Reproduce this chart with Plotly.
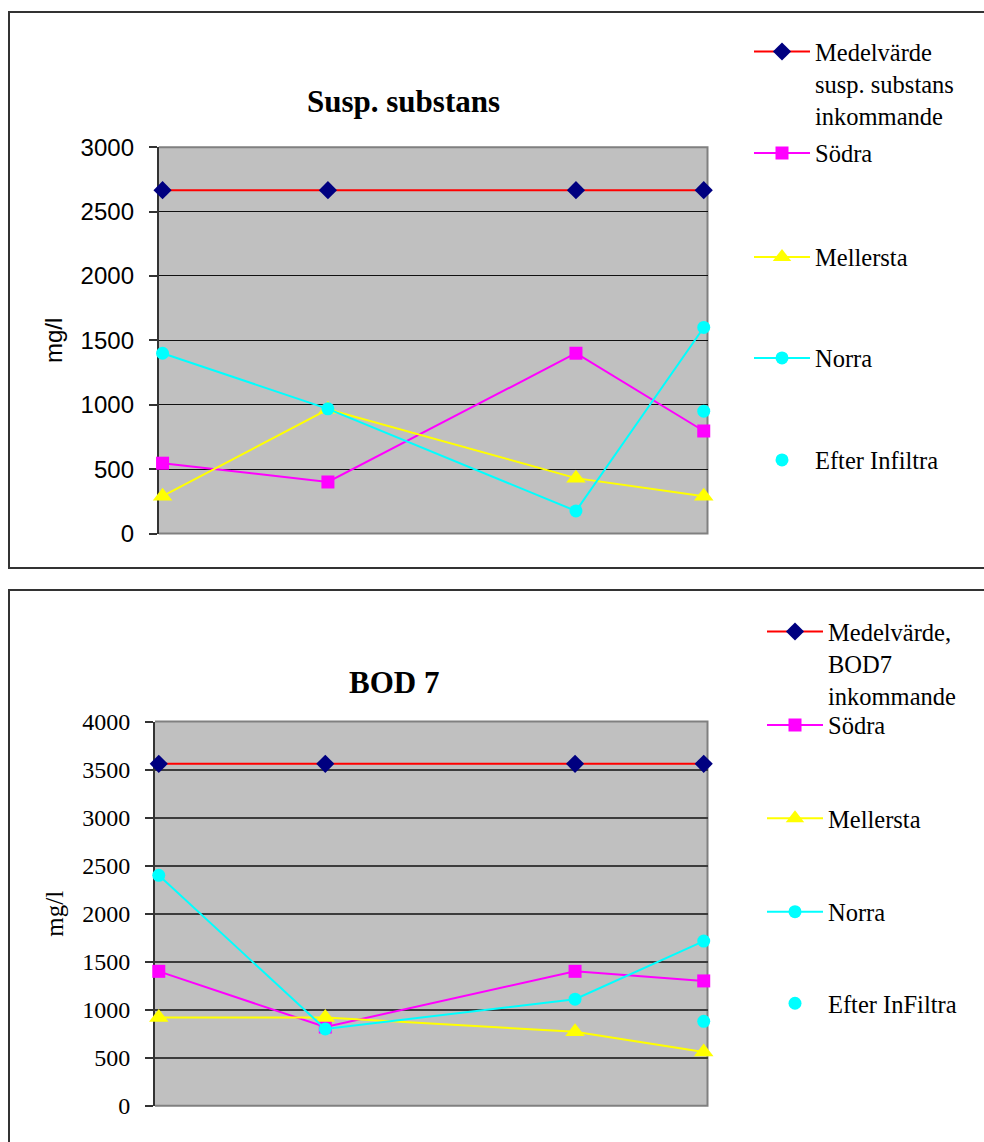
import plotly.graph_objects as go

W, H = 984, 1142

# ---------------- data ----------------
sample_day = [0, 22, 55, 72]  # relative sampling days (no x labels in the original)

ss_medel = [2666, 2666, 2666, 2666]
ss_sodra = [546, 400, 1400, 796]
ss_mellersta = [290, 965, 430, 290]
ss_norra = [1400, 968, 175, 1600]
ss_efter = [None, None, None, 950]

bod_medel = [3560, 3560, 3560, 3560]
bod_sodra = [1400, 820, 1400, 1300]
bod_mellersta = [920, 920, 770, 560]
bod_norra = [2400, 800, 1110, 1715]
bod_efter = [None, None, None, 880]

ss_names = ["Medelvärde<br>susp. substans<br>inkommande", "Södra", "Mellersta", "Norra", "Efter Infiltra"]
bod_names = ["Medelvärde,<br>BOD7<br>inkommande", "Södra", "Mellersta", "Norra", "Efter InFiltra"]

ss_ticks = [0, 500, 1000, 1500, 2000, 2500, 3000]
bod_ticks = [0, 500, 1000, 1500, 2000, 2500, 3000, 3500, 4000]

# ---------------- styles ----------------
styles = [
    dict(mode="lines+markers", line=dict(color="#FF0000", width=2),
         marker=dict(symbol="diamond", color="#000080", size=14)),
    dict(mode="lines+markers", line=dict(color="#FF00FF", width=2),
         marker=dict(symbol="square", color="#FF00FF", size=13)),
    dict(mode="lines+markers", line=dict(color="#FFFF00", width=2),
         marker=dict(symbol="triangle-up", color="#FFFF00", size=17)),
    dict(mode="lines+markers", line=dict(color="#00FFFF", width=2),
         marker=dict(symbol="circle", color="#00FFFF", size=13)),
    dict(mode="markers",
         marker=dict(symbol="circle", color="#00FFFF", size=13)),
]

fig = go.Figure()

ss_series = [ss_medel, ss_sodra, ss_mellersta, ss_norra, ss_efter]
bod_series = [bod_medel, bod_sodra, bod_mellersta, bod_norra, bod_efter]

for i, (name, vals) in enumerate(zip(ss_names, ss_series)):
    fig.add_trace(go.Scatter(x=sample_day, y=vals, name=name, xaxis="x", yaxis="y",
                             legend="legend" if i == 0 else f"legend{i+1}",
                             cliponaxis=False, **styles[i]))
for i, (name, vals) in enumerate(zip(bod_names, bod_series)):
    fig.add_trace(go.Scatter(x=sample_day, y=vals, name=name, xaxis="x2", yaxis="y2",
                             legend=f"legend{i+6}", cliponaxis=False, **styles[i]))

def px_x(v):
    return v / W

def px_y(v):
    return 1 - v / H

serif = "Liberation Serif, Times New Roman, serif"
sans = "Liberation Sans, Arial, sans-serif"

# legend positions (symbol centre y in px)
top_leg_y = [51.7, 153, 257, 358, 460]
bot_leg_y = [631.7, 725, 818.3, 911.7, 1003.3]
lfs = 24.5
lh = lfs * 1.3
legends = {}
for i in range(10):
    key = "legend" if i == 0 else f"legend{i+1}"
    if i < 5:
        ly = top_leg_y[i]
        lx = 749
    else:
        ly = bot_leg_y[i - 5]
        lx = 762
    if i in (0, 5):
        ly = ly + lh
    legends[key] = dict(x=px_x(lx), y=px_y(ly), xanchor="left", yanchor="middle",
                        bgcolor="rgba(0,0,0,0)", borderwidth=0, itemwidth=56,
                        valign="top", font=dict(family=serif, size=lfs, color="#000000"))

axis_common = dict(ticks="outside", ticklen=8, tickwidth=2, tickcolor="#333333",
                   showline=True, linecolor="#333333", linewidth=2, layer="below traces",
                   zeroline=False, automargin=False, showgrid=True)

fig.update_layout(
    width=W, height=H,
    margin=dict(l=0, r=0, t=0, b=0, autoexpand=False),
    paper_bgcolor="#FFFFFF",
    plot_bgcolor="#C0C0C0",
    showlegend=True,
    xaxis=dict(domain=[px_x(158.8), px_x(707.5)], anchor="y", range=[-0.5, 72.5],
               showgrid=False, showticklabels=False, ticks="", zeroline=False,
               showline=False, automargin=False),
    yaxis=dict(domain=[px_y(533.5), px_y(147.2)], anchor="x", range=[0, 3000],
               tickvals=ss_ticks, ticklabelstandoff=10,
               gridcolor="#111111", gridwidth=1,
               tickfont=dict(family=sans, size=24, color="#000000"),
               title=dict(text="mg/l", font=dict(family=sans, size=24, color="#000000"), standoff=11),
               **axis_common),
    xaxis2=dict(domain=[px_x(155), px_x(707.5)], anchor="y2", range=[-0.5, 72.5],
                showgrid=False, showticklabels=False, ticks="", zeroline=False,
                showline=False, automargin=False),
    yaxis2=dict(domain=[px_y(1105.8), px_y(721.6)], anchor="x2", range=[0, 4000],
                tickvals=bod_ticks, ticklabelstandoff=10,
                gridcolor="#3c3c3c", gridwidth=2,
                tickfont=dict(family=serif, size=24, color="#000000"),
                title=dict(text="mg/l", font=dict(family=serif, size=25, color="#000000"), standoff=11),
                **axis_common),
    **legends,
)

# plot-area frames (grey top/right/bottom) and the outer chart boxes
for xr, yr in (("x domain", "y domain"), ("x2 domain", "y2 domain")):
    fig.add_shape(type="path", xref=xr, yref=yr, path="M0,1 L1,1 L1,0 L0,0",
                  line=dict(color="#808080", width=2), fillcolor="rgba(0,0,0,0)", layer="below")

fig.add_shape(type="rect", xref="paper", yref="paper",
              x0=px_x(9), x1=px_x(W + 10), y0=px_y(568), y1=px_y(12),
              line=dict(color="#333333", width=2), fillcolor="rgba(0,0,0,0)")
fig.add_shape(type="rect", xref="paper", yref="paper",
              x0=px_x(9), x1=px_x(W + 10), y0=px_y(H + 10), y1=px_y(590),
              line=dict(color="#333333", width=2), fillcolor="rgba(0,0,0,0)")

fig.add_annotation(text="<b>Susp. substans</b>", xref="paper", yref="paper",
                   x=px_x(403), y=px_y(101), xanchor="center", yanchor="middle",
                   showarrow=False, font=dict(family=serif, size=31, color="#000000"))
fig.add_annotation(text="<b>BOD 7</b>", xref="paper", yref="paper",
                   x=px_x(394), y=px_y(683), xanchor="center", yanchor="middle",
                   showarrow=False, font=dict(family=serif, size=31, color="#000000"))

fig.write_html("out.html", config={"displayModeBar": False},
               post_script="document.body.style.margin='0';")
